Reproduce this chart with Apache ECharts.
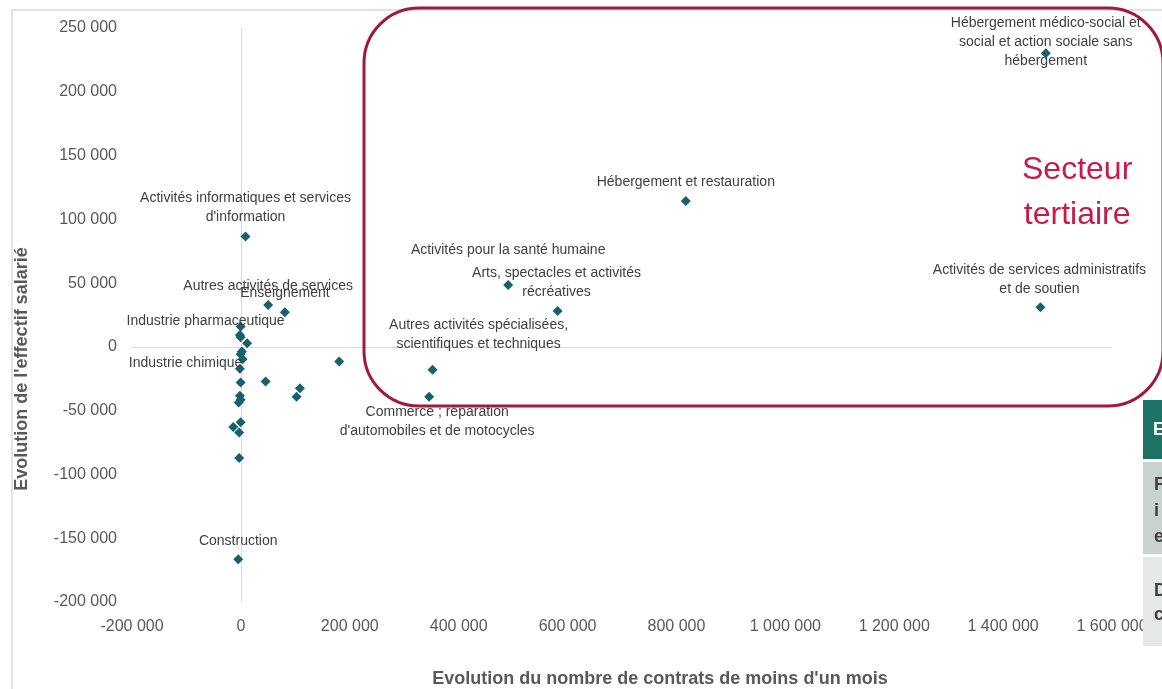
<!DOCTYPE html>
<html>
<head>
<meta charset="utf-8">
<script src="https://cdn.jsdelivr.net/npm/echarts@6/dist/echarts.min.js"></script>
<style>
  html, body { margin: 0; padding: 0; background: #ffffff; }
  #chart { width: 1162px; height: 689px; }
</style>
</head>
<body>
<div id="chart"></div>
<script>
// Evolution du nombre de contrats de moins d'un mois vs évolution de l'effectif salarié, par secteur
const contrats = [
  -500, -1800, -500, 11500, 1800, -500, 3100, -1800, -500, 45400,
  -1800, -500, -4000, 108400, 102300, 180500, -500, -14000, -3100, -3100,
  -4900, 50100, 80800, 8500, 352100, 345800, 490900, 581600, 817200, 1478400,
  1468600
];
const effectifs = [
  15900, 9400, 7600, 2900, -3700, -5700, -9600, -17200, -28000, -27200,
  -38400, -41500, -43600, -32400, -39000, -11500, -59000, -62900, -67200, -87200,
  -166400, 32900, 27200, 86500, -18000, -39000, 48600, 28200, 114400, 230200,
  31100
];
const secteurs = [
  "Industrie pharmaceutique", "", "", "", "", "", "Industrie chimique", "", "", "",
  "", "", "", "", "", "", "", "", "", "",
  "Construction", "Autres activités de services", "Enseignement",
  "Activités informatiques et services\nd'information",
  "Autres activités spécialisées,\nscientifiques et techniques",
  "Commerce ; réparation\nd'automobiles et de motocycles",
  "Activités pour la santé humaine",
  "Arts, spectacles et activités\nrécréatives",
  "Hébergement et restauration",
  "Hébergement médico-social et\nsocial et action sociale sans\nhébergement",
  "Activités de services administratifs\net de soutien"
];
const xTicks = { min: -200000, max: 1600000, interval: 200000 };
const yTicks = { min: -200000, max: 250000, interval: 50000 };
const xTitle = "Evolution du nombre de contrats de moins d'un mois";
const yTitle = "Evolution de l'effectif salarié";

// label placement (shift of the label centre from its marker, in px)
const labelOffsets = {
  "Industrie pharmaceutique": [-35, -5],
  "Industrie chimique": [-57, 4],
  "Construction": [0, -18],
  "Autres activités de services": [0, -19],
  "Enseignement": [0, -19],
  "Activités informatiques et services\nd'information": [0, -29],
  "Autres activités spécialisées,\nscientifiques et techniques": [46, -35],
  "Commerce ; réparation\nd'automobiles et de motocycles": [8, 25],
  "Activités pour la santé humaine": [0, -35],
  "Arts, spectacles et activités\nrécréatives": [-1, -28],
  "Hébergement et restauration": [0, -19],
  "Hébergement médico-social et\nsocial et action sociale sans\nhébergement": [0, -11],
  "Activités de services administratifs\net de soutien": [-1, -28]
};

const fmt = v => String(v).replace(/\B(?=(\d{3})+(?!\d))/g, ' ');
const FONT = "'Liberation Sans', Arial, sans-serif";

const points = contrats.map((x, i) => {
  const name = secteurs[i];
  const item = { value: [x, effectifs[i]], name: name };
  if (name) {
    item.label = {
      show: true,
      position: 'inside',
      formatter: '{b}',
      color: '#404040',
      fontSize: 14,
      lineHeight: 19,
      fontFamily: FONT,
      align: 'center',
      verticalAlign: 'middle'
    };
  }
  return item;
});

const chart = echarts.init(document.getElementById('chart'), null, { renderer: 'canvas' });
chart.setOption({
  animation: false,
  backgroundColor: '#ffffff',
  grid: { left: 132, right: 50, top: 28, bottom: 87, containLabel: false, outerBoundsMode: 'none' },
  xAxis: {
    type: 'value',
    min: xTicks.min, max: xTicks.max, interval: xTicks.interval,
    axisLine: { show: false }, axisTick: { show: false }, splitLine: { show: false },
    axisLabel: { formatter: fmt, color: '#595959', fontSize: 16, fontFamily: FONT, margin: 17 }
  },
  yAxis: {
    type: 'value',
    min: yTicks.min, max: yTicks.max, interval: yTicks.interval,
    axisLine: { show: false }, axisTick: { show: false }, splitLine: { show: false },
    axisLabel: { formatter: fmt, color: '#595959', fontSize: 16, fontFamily: FONT, margin: 15 }
  },
  series: [{
    type: 'scatter',
    symbol: 'diamond',
    symbolSize: 10,
    itemStyle: { color: '#17606E', opacity: 1 },
    data: points,
    labelLayout: function (params) {
      const name = secteurs[params.dataIndex];
      const off = labelOffsets[name] || [0, -19];
      return { dx: off[0], dy: off[1], hideOverlap: false };
    },
    markLine: {
      silent: true,
      symbol: 'none',
      label: { show: false },
      lineStyle: { color: '#d9d9d9', width: 1, type: 'solid' },
      data: [{ xAxis: 0 }, { yAxis: 0 }],
      z: 0
    }
  }],
  graphic: [
    // chart frame
    { type: 'polyline', z: 1, silent: true,
      shape: { points: [[12, 689], [12, 10], [1162, 10]] },
      style: { stroke: '#d9d9d9', lineWidth: 1.5, fill: null } },
    // axis titles
    { type: 'text', z: 5, silent: true, x: 660, y: 679,
      style: { text: xTitle, fill: '#595959', font: "bold 18px 'Liberation Sans', Arial, sans-serif",
               textAlign: 'center', textVerticalAlign: 'middle' } },
    { type: 'text', z: 5, silent: true, x: 22, y: 369, rotation: Math.PI / 2,
      style: { text: yTitle, fill: '#595959', font: "bold 18px 'Liberation Sans', Arial, sans-serif",
               textAlign: 'center', textVerticalAlign: 'middle' } },
    // tertiary sector outline
    { type: 'rect', z: 100, silent: true,
      shape: { x: 364, y: 8, width: 799, height: 398, r: 55 },
      style: { stroke: '#9E1B3F', lineWidth: 3, fill: null } },
    { type: 'text', z: 101, silent: true, left: 1022, top: 148,
      style: { text: 'Secteur\ntertiaire', fill: '#C8194B', font: "32px 'Liberation Sans', Arial, sans-serif",
               lineHeight: 45, textAlign: 'center', x: 58 } },
    // side panels
    { type: 'rect', z: 2, silent: true, shape: { x: 1143, y: 400, width: 30, height: 59 }, style: { fill: '#1C7263' } },
    { type: 'rect', z: 2, silent: true, shape: { x: 1143, y: 462, width: 30, height: 92 }, style: { fill: '#C9D2D0' } },
    { type: 'rect', z: 2, silent: true, shape: { x: 1143, y: 557, width: 30, height: 89 }, style: { fill: '#E4E8E7' } },
    { type: 'text', z: 3, silent: true, x: 1153, y: 421,
      style: { text: 'E', fill: '#ffffff', font: "bold 18px 'Liberation Sans', Arial, sans-serif" } },
    { type: 'text', z: 3, silent: true, x: 1154, y: 472,
      style: { text: 'F\ni\ne', fill: '#404040', lineHeight: 26, font: "bold 18px 'Liberation Sans', Arial, sans-serif" } },
    { type: 'text', z: 3, silent: true, x: 1154, y: 579,
      style: { text: 'D\nc', fill: '#404040', lineHeight: 24, font: "bold 18px 'Liberation Sans', Arial, sans-serif" } }
  ]
});
</script>
</body>
</html>
